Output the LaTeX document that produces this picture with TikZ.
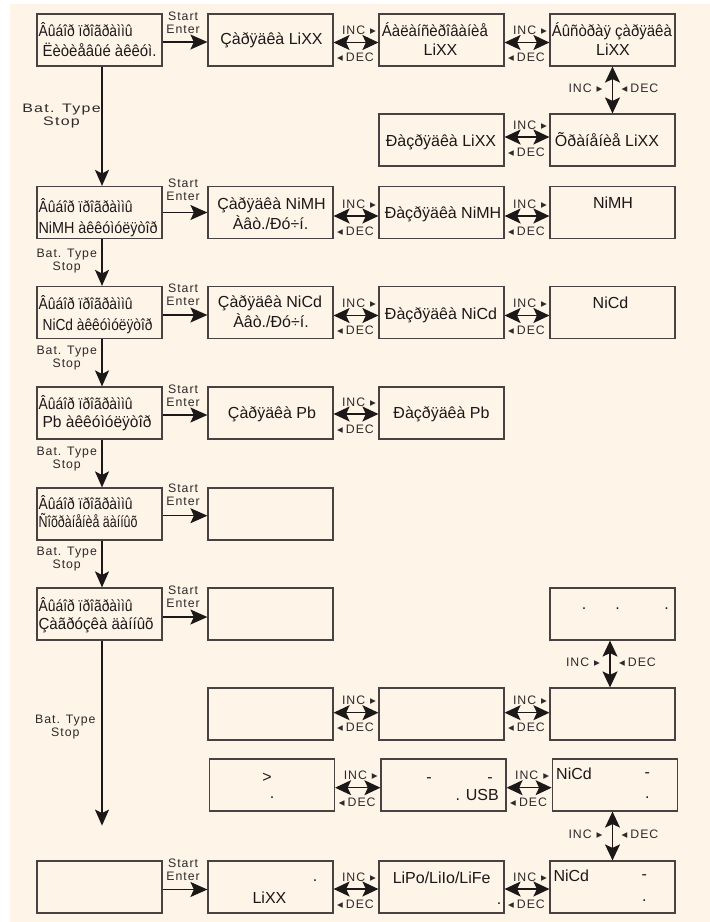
\documentclass[tikz,border=0pt]{standalone}
\usepackage{fontspec}
\usepackage{graphicx}
\setmainfont{Liberation Sans}
\newfontfamily\smallf[LetterSpace=8]{Liberation Sans}
\newfontfamily\trif{DejaVu Sans}
\usetikzlibrary{arrows.meta,calc}
\definecolor{cream}{RGB}{254,244,232}
\definecolor{boxline}{RGB}{72,66,66}
\definecolor{ink}{RGB}{28,24,24}
\definecolor{labink}{RGB}{45,42,42}
\newcommand{\inclab}{INC\hspace{5pt}{\trif\fontsize{11.5}{12}\selectfont ▸}}
\newcommand{\declab}{{\trif\fontsize{11.5}{12}\selectfont ◂}\hspace{3pt}DEC}
\newcommand{\StartEnter}[4]{%
  \draw[fwd] ([yshift=#4pt]#1.east) -- ([yshift=#4pt]#2.west);
  \node[lab,anchor=base] (#1s) at ($(#1.north east)+(20.5,#3)$) {Start};
  \node[lab,anchor=base] (#1e) at ($(#1.north east)+(20.5,#3+13.3)$) {Enter};}
\newcommand{\IncDec}[3]{%
  \draw[dbl] ([yshift=#3pt]#1.east) -- coordinate[midway] (#1#2m) ([yshift=#3pt]#2.west);
  \node[lab,anchor=base] (#1#2i) at ($(#1#2m)+(3,-8)$) {\inclab};
  \node[lab,anchor=base] (#1#2d) at ($(#1#2m)+(-0.5,19)$) {\declab};}
\newcommand{\VLabels}[1]{%
  \node[lab,anchor=base] (#1i) at ($(#1m)+(-27,2.5)$) {\inclab};
  \node[lab,anchor=base] (#1d) at ($(#1m)+(27.5,2.5)$) {\declab};}
\newcommand{\BatLab}[4]{%
  \node[lab,anchor=base] (#1a) at (#2,#3) {\scalebox{#4}[1]{Bat. Type}};
  \node[lab,anchor=base] (#1b) at (#2,#3+13) {\scalebox{#4}[1]{Stop}};}
\begin{document}
\begin{tikzpicture}[x=1pt,y=-1pt,
  box/.style={draw=boxline,line width=1.2pt,minimum width=125pt,minimum height=52pt,inner sep=0pt},
  txt/.style={inner sep=0pt,text=ink,font=\fontsize{16}{19}\selectfont},
  lab/.style={inner sep=0pt,text=labink,font=\smallf\fontsize{12.3}{14}\selectfont},
  conn/.style={draw=ink,line width=1.2pt},
  fwd/.style={conn,-{Stealth[length=17pt,width=15pt,inset=3.5pt]}},
  dbl/.style={conn,{Stealth[length=16pt,width=15pt,inset=3.5pt]}-{Stealth[length=16pt,width=15pt,inset=3.5pt]}},
  down/.style={conn,-{Stealth[length=16pt,width=14pt,inset=3.5pt]}}]
\useasboundingbox (0,0) rectangle (710,922);
\fill[white] (0,0) rectangle (710,922);
\fill[cream] (10,4) rectangle (710,922);

% boxes
\node[box] (a1) at (99.5,40) {};
\node[box] (b1) at (270.5,40) {};
\node[box] (c1) at (441.5,40) {};
\node[box] (d1) at (612.5,40) {};
\node[box] (c1b) at (441.5,140) {};
\node[box] (d1b) at (612.5,140) {};
\node[box] (a2) at (99.5,212.5) {};
\node[box] (b2) at (270.5,212.5) {};
\node[box] (c2) at (441.5,212.5) {};
\node[box] (d2) at (612.5,212.5) {};
\node[box] (a3) at (99.5,312.5) {};
\node[box] (b3) at (270.5,312.5) {};
\node[box] (c3) at (441.5,312.5) {};
\node[box] (d3) at (612.5,312.5) {};
\node[box] (a4) at (99.5,413) {};
\node[box] (b4) at (270.5,413) {};
\node[box] (c4) at (441.5,413) {};
\node[box] (a5) at (99.5,514) {};
\node[box] (b5) at (270.5,514) {};
\node[box] (a6) at (99.5,614) {};
\node[box] (b6) at (270.5,614) {};
\node[box] (d6) at (612.5,614) {};
\node[box] (b7) at (270.5,714) {};
\node[box] (c7) at (441.5,714) {};
\node[box] (d7) at (612.5,714) {};
\node[box] (b8) at (272,785) {};
\node[box] (c8) at (443.5,785) {};
\node[box] (d8) at (614.7,785) {};
\node[box] (a9) at (99.5,887) {};
\node[box] (b9) at (270.5,887) {};
\node[box] (c9) at (441.5,887) {};
\node[box] (d9) at (612.5,887) {};

% left column texts
\node[txt,anchor=base west] (a1l1) at ($(a1.north west)+(2,23)$) {\resizebox{94pt}{\height}{Âûáîð ïðîãðàììû}};
\node[txt,anchor=base west] (a1l2) at ($(a1.north west)+(6,43.3)$) {\resizebox{114pt}{\height}{Ëèòèåâûé àêêóì.}};
\node[txt,anchor=base west] (a2l1) at ($(a2.north west)+(2,26.8)$) {\resizebox{94pt}{\height}{Âûáîð ïðîãðàììû}};
\node[txt,anchor=base west] (a2l2) at ($(a2.north west)+(2,47.5)$) {\resizebox{119pt}{\height}{NiMH àêêóìóëÿòîð}};
\node[txt,anchor=base west] (a3l1) at ($(a3.north west)+(2,23.5)$) {\resizebox{94pt}{\height}{Âûáîð ïðîãðàììû}};
\node[txt,anchor=base west] (a3l2) at ($(a3.north west)+(6,45)$) {\resizebox{110pt}{\height}{NiCd àêêóìóëÿòîð}};
\node[txt,anchor=base west] (a4l1) at ($(a4.north west)+(2,23)$) {\resizebox{94pt}{\height}{Âûáîð ïðîãðàììû}};
\node[txt,anchor=base west] (a4l2) at ($(a4.north west)+(6,41)$) {\resizebox{109pt}{\height}{Pb àêêóìóëÿòîð}};
\node[txt,anchor=base west] (a5l1) at ($(a5.north west)+(2,22)$) {\resizebox{94pt}{\height}{Âûáîð ïðîãðàììû}};
\node[txt,anchor=base west] (a5l2) at ($(a5.north west)+(2,40.3)$) {\resizebox{99pt}{\height}{Ñîõðàíåíèå äàííûõ}};
\node[txt,anchor=base west] (a6l1) at ($(a6.north west)+(2,24)$) {\resizebox{94pt}{\height}{Âûáîð ïðîãðàììû}};
\node[txt,anchor=base west] (a6l2) at ($(a6.north west)+(2,42.4)$) {\resizebox{115pt}{\height}{Çàãðóçêà äàííûõ}};

% other texts
\node[txt,anchor=base] (b1t) at ($(b1)+(1,4.3)$) {Çàðÿäêà LiXX};
\node[txt,anchor=base west] (c1t1) at ($(c1)+(-59.8,-3.3)$) {\resizebox{106pt}{\height}{Áàëàíñèðîâàíèå}};
\node[txt,anchor=base] (c1t2) at ($(c1)+(-1,15)$) {LiXX};
\node[txt,anchor=base west] (d1t1) at ($(d1)+(-60.8,-3.3)$) {\resizebox{120pt}{\height}{Áûñòðàÿ çàðÿäêà}};
\node[txt,anchor=base] (d1t2) at ($(d1)+(0.5,15)$) {LiXX};
\node[txt,anchor=base] (c1bt) at ($(c1b)+(-0.5,6.7)$) {Ðàçðÿäêà LiXX};
\node[txt,anchor=base] (d1bt) at ($(d1b)+(-5.5,6.7)$) {Õðàíåíèå LiXX};
\node[txt,anchor=base] (b2t1) at ($(b2)+(1,-3.5)$) {Çàðÿäêà NiMH};
\node[txt,anchor=base] (b2t2) at ($(b2)+(0,16.8)$) {Àâò./Ðó÷í.};
\node[txt,anchor=base] (c2t) at ($(c2)+(1.5,5.8)$) {Ðàçðÿäêà NiMH};
\node[txt,anchor=base] (d2t) at ($(d2)+(0.5,-4.2)$) {NiMH};
\node[txt,anchor=base] (b3t1) at ($(b3)+(-0.5,-5.2)$) {Çàðÿäêà NiCd};
\node[txt,anchor=base] (b3t2) at ($(b3)+(0.5,14.8)$) {Àâò./Ðó÷í.};
\node[txt,anchor=base] (c3t) at ($(c3)+(-0.5,6.5)$) {Ðàçðÿäêà NiCd};
\node[txt,anchor=base] (d3t) at ($(d3)+(-2,-4.2)$) {NiCd};
\node[txt,anchor=base] (b4t) at ($(b4)+(1.5,5.3)$) {Çàðÿäêà Pb};
\node[txt,anchor=base] (c4t) at ($(c4)+(0,5.3)$) {Ðàçðÿäêà Pb};
\node[txt,anchor=base] (d6p1) at ($(d6)+(-28.5,-4.5)$) {.};
\node[txt,anchor=base] (d6p2) at ($(d6)+(5.2,-4.5)$) {.};
\node[txt,anchor=base] (d6p3) at ($(d6)+(54.2,-4.5)$) {.};
\node[txt,anchor=base] (b8t1) at ($(b8)+(-5,-3)$) {>};
\node[txt,anchor=base] (b8t2) at ($(b8)+(0,13)$) {.};
\node[txt,anchor=base] (c8t1) at ($(c8)+(-14.5,-2.7)$) {-};
\node[txt,anchor=base] (c8t2) at ($(c8)+(46.5,-2.7)$) {-};
\node[txt,anchor=base east] (c8t3) at ($(c8)+(55.5,15.7)$) {. USB};
\node[txt,anchor=base west] (d8t1) at ($(d8)+(-58.7,-6)$) {NiCd};
\node[txt,anchor=base] (d8t2) at ($(d8)+(32.6,-7.7)$) {-};
\node[txt,anchor=base] (d8t3) at ($(d8)+(32.6,13)$) {.};
\node[txt,anchor=base] (b9t1) at ($(b9)+(44.5,-5.5)$) {.};
\node[txt,anchor=base] (b9t2) at ($(b9)+(-1,16.3)$) {LiXX};
\node[txt,anchor=base] (c9t1) at ($(c9)+(0.2,-3.7)$) {LiPo/LiIo/LiFe};
\node[txt,anchor=base] (c9t2) at ($(c9)+(57.5,17.5)$) {.};
\node[txt,anchor=base west] (d9t1) at ($(d9)+(-59.2,-5.3)$) {NiCd};
\node[txt,anchor=base] (d9t2) at ($(d9)+(31.8,-7.7)$) {-};
\node[txt,anchor=base] (d9t3) at ($(d9)+(31.8,14.5)$) {.};

% Start / Enter arrows
\StartEnter{a1}{b1}{6.7}{-2}
\StartEnter{a2}{b2}{1.6}{0}
\StartEnter{a3}{b3}{6.6}{-2.5}
\StartEnter{a4}{b4}{6.7}{-2}
\StartEnter{a5}{b5}{5}{-1.7}
\StartEnter{a6}{b6}{6.7}{-3}
\StartEnter{a9}{b9}{6.7}{-2.5}

% INC / DEC horizontal
\IncDec{b1}{c1}{-2.5}
\IncDec{c1}{d1}{-2.5}
\IncDec{c1b}{d1b}{3}
\IncDec{b2}{c2}{-3.5}
\IncDec{c2}{d2}{-3.5}
\IncDec{b3}{c3}{-3}
\IncDec{c3}{d3}{-3}
\IncDec{b4}{c4}{-1}
\IncDec{b7}{c7}{1.3}
\IncDec{c7}{d7}{1.3}
\IncDec{b8}{c8}{-2.7}
\IncDec{c8}{d8}{-2.7}
\IncDec{b9}{c9}{-2}
\IncDec{c9}{d9}{-2}

% INC / DEC vertical
\draw[dbl] (d1.south) -- coordinate[midway] (v1m) (d1b.north);
\VLabels{v1}
\draw[dbl] ([xshift=-2.5pt]d6.south) -- coordinate[midway] (v2m) ([xshift=-2.5pt]d7.north);
\VLabels{v2}
\draw[dbl] (d9.north |- d8.south) -- coordinate[midway] (v3m) (d9.north);
\VLabels{v3}

% main vertical chain
\coordinate (aend) at ($(a6.south)+(2.5,185)$);
\draw[down] ([xshift=2.5pt]a1.south) -- ([xshift=2.5pt]a2.north);
\draw[down] ([xshift=2.5pt]a2.south) -- ([xshift=2.5pt]a3.north);
\draw[down] ([xshift=2.5pt]a3.south) -- ([xshift=2.5pt]a4.north);
\draw[down] ([xshift=2.5pt]a4.south) -- ([xshift=2.5pt]a5.north);
\draw[down] ([xshift=2.5pt]a5.south) -- ([xshift=2.5pt]a6.north);
\draw[down] ([xshift=2.5pt]a6.south) -- (aend);

\BatLab{bl1}{61.5}{112.7}{1.3}
\BatLab{bl2}{66.7}{257.3}{1}
\BatLab{bl3}{66.7}{354}{1}
\BatLab{bl4}{66.7}{455}{1}
\BatLab{bl5}{66.7}{555}{1}
\BatLab{bl6}{65.3}{723.3}{1}
\end{tikzpicture}
\end{document}
